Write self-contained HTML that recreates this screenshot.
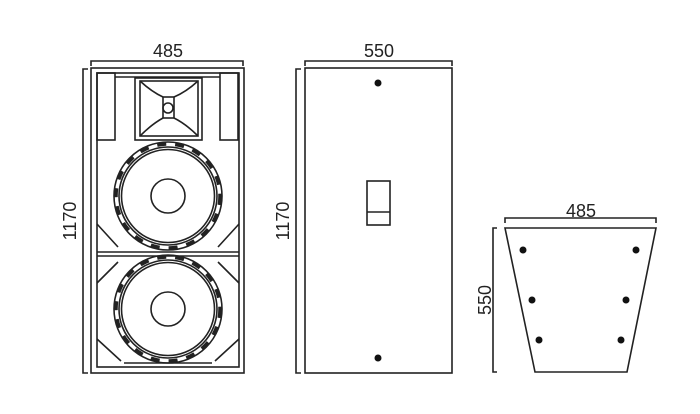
<!DOCTYPE html>
<html><head><style>body{margin:0;background:#fff}svg{display:block}text{font-family:"Liberation Sans",Arial,sans-serif}</style></head><body>
<svg width="700" height="414" viewBox="0 0 700 414" xmlns="http://www.w3.org/2000/svg" fill="none" stroke="#222" stroke-width="1.6">
<g font-size="18" fill="#222" stroke="none" text-anchor="middle">
<text x="168" y="57">485</text>
<text x="379" y="57">550</text>
<text x="581" y="217">485</text>
<text transform="translate(76 221) rotate(-90)">1170</text>
<text transform="translate(289 221) rotate(-90)">1170</text>
<text transform="translate(491 300) rotate(-90)">550</text>
</g>
<!-- dims -->
<path d="M91 66V61H243V66"/>
<path d="M88 69H83V373H88"/>
<path d="M305 66V61H452V66"/>
<path d="M301 69H296V373H301"/>
<path d="M505 223V218H656V223"/>
<path d="M497 228H493V372H497"/>
<!-- front -->
<rect x="91" y="68" width="153" height="305"/>
<rect x="97" y="73" width="142" height="294"/>
<rect x="97" y="73" width="18" height="67"/>
<rect x="220" y="73" width="18" height="67"/>
<path d="M115 77H220"/>
<rect x="135" y="78" width="67" height="62"/>
<rect x="140" y="81" width="58" height="55"/>
<rect x="163" y="97" width="11" height="21"/>
<circle cx="168" cy="108" r="5"/>
<path d="M140 81Q152 92 163 97M198 81Q186 92 174 97M140 136Q152 124 163 118M198 136Q186 124 174 118"/>
<path d="M97 252H239M97 256H239"/>
<path d="M97 224L118 247M239 224L218 247M97 283L118 262M239 283L218 262M97 339L121 361M239 339L215 361M124 363H212"/>
<g id="w">
<circle cx="168" cy="196" r="54"/>
<circle cx="168" cy="196" r="52" stroke-width="3.5" stroke-dasharray="9 9"/>
<circle cx="168" cy="196" r="49"/>
<circle cx="168" cy="196" r="46.5"/>
<circle cx="168" cy="196" r="17"/>
</g>
<use href="#w" y="113"/>
<!-- side -->
<rect x="305" y="68" width="147" height="305"/>
<rect x="367" y="181" width="23" height="44"/>
<path d="M367 212H390"/>
<g fill="#111" stroke="none">
<circle cx="378" cy="83" r="3.5"/><circle cx="378" cy="358" r="3.5"/>
<circle cx="523" cy="250" r="3.5"/><circle cx="636" cy="250" r="3.5"/>
<circle cx="532" cy="300" r="3.5"/><circle cx="626" cy="300" r="3.5"/>
<circle cx="539" cy="340" r="3.5"/><circle cx="621" cy="340" r="3.5"/>
</g>
<path d="M505 228H656L627 372H535Z"/>
</svg>
</body></html>
